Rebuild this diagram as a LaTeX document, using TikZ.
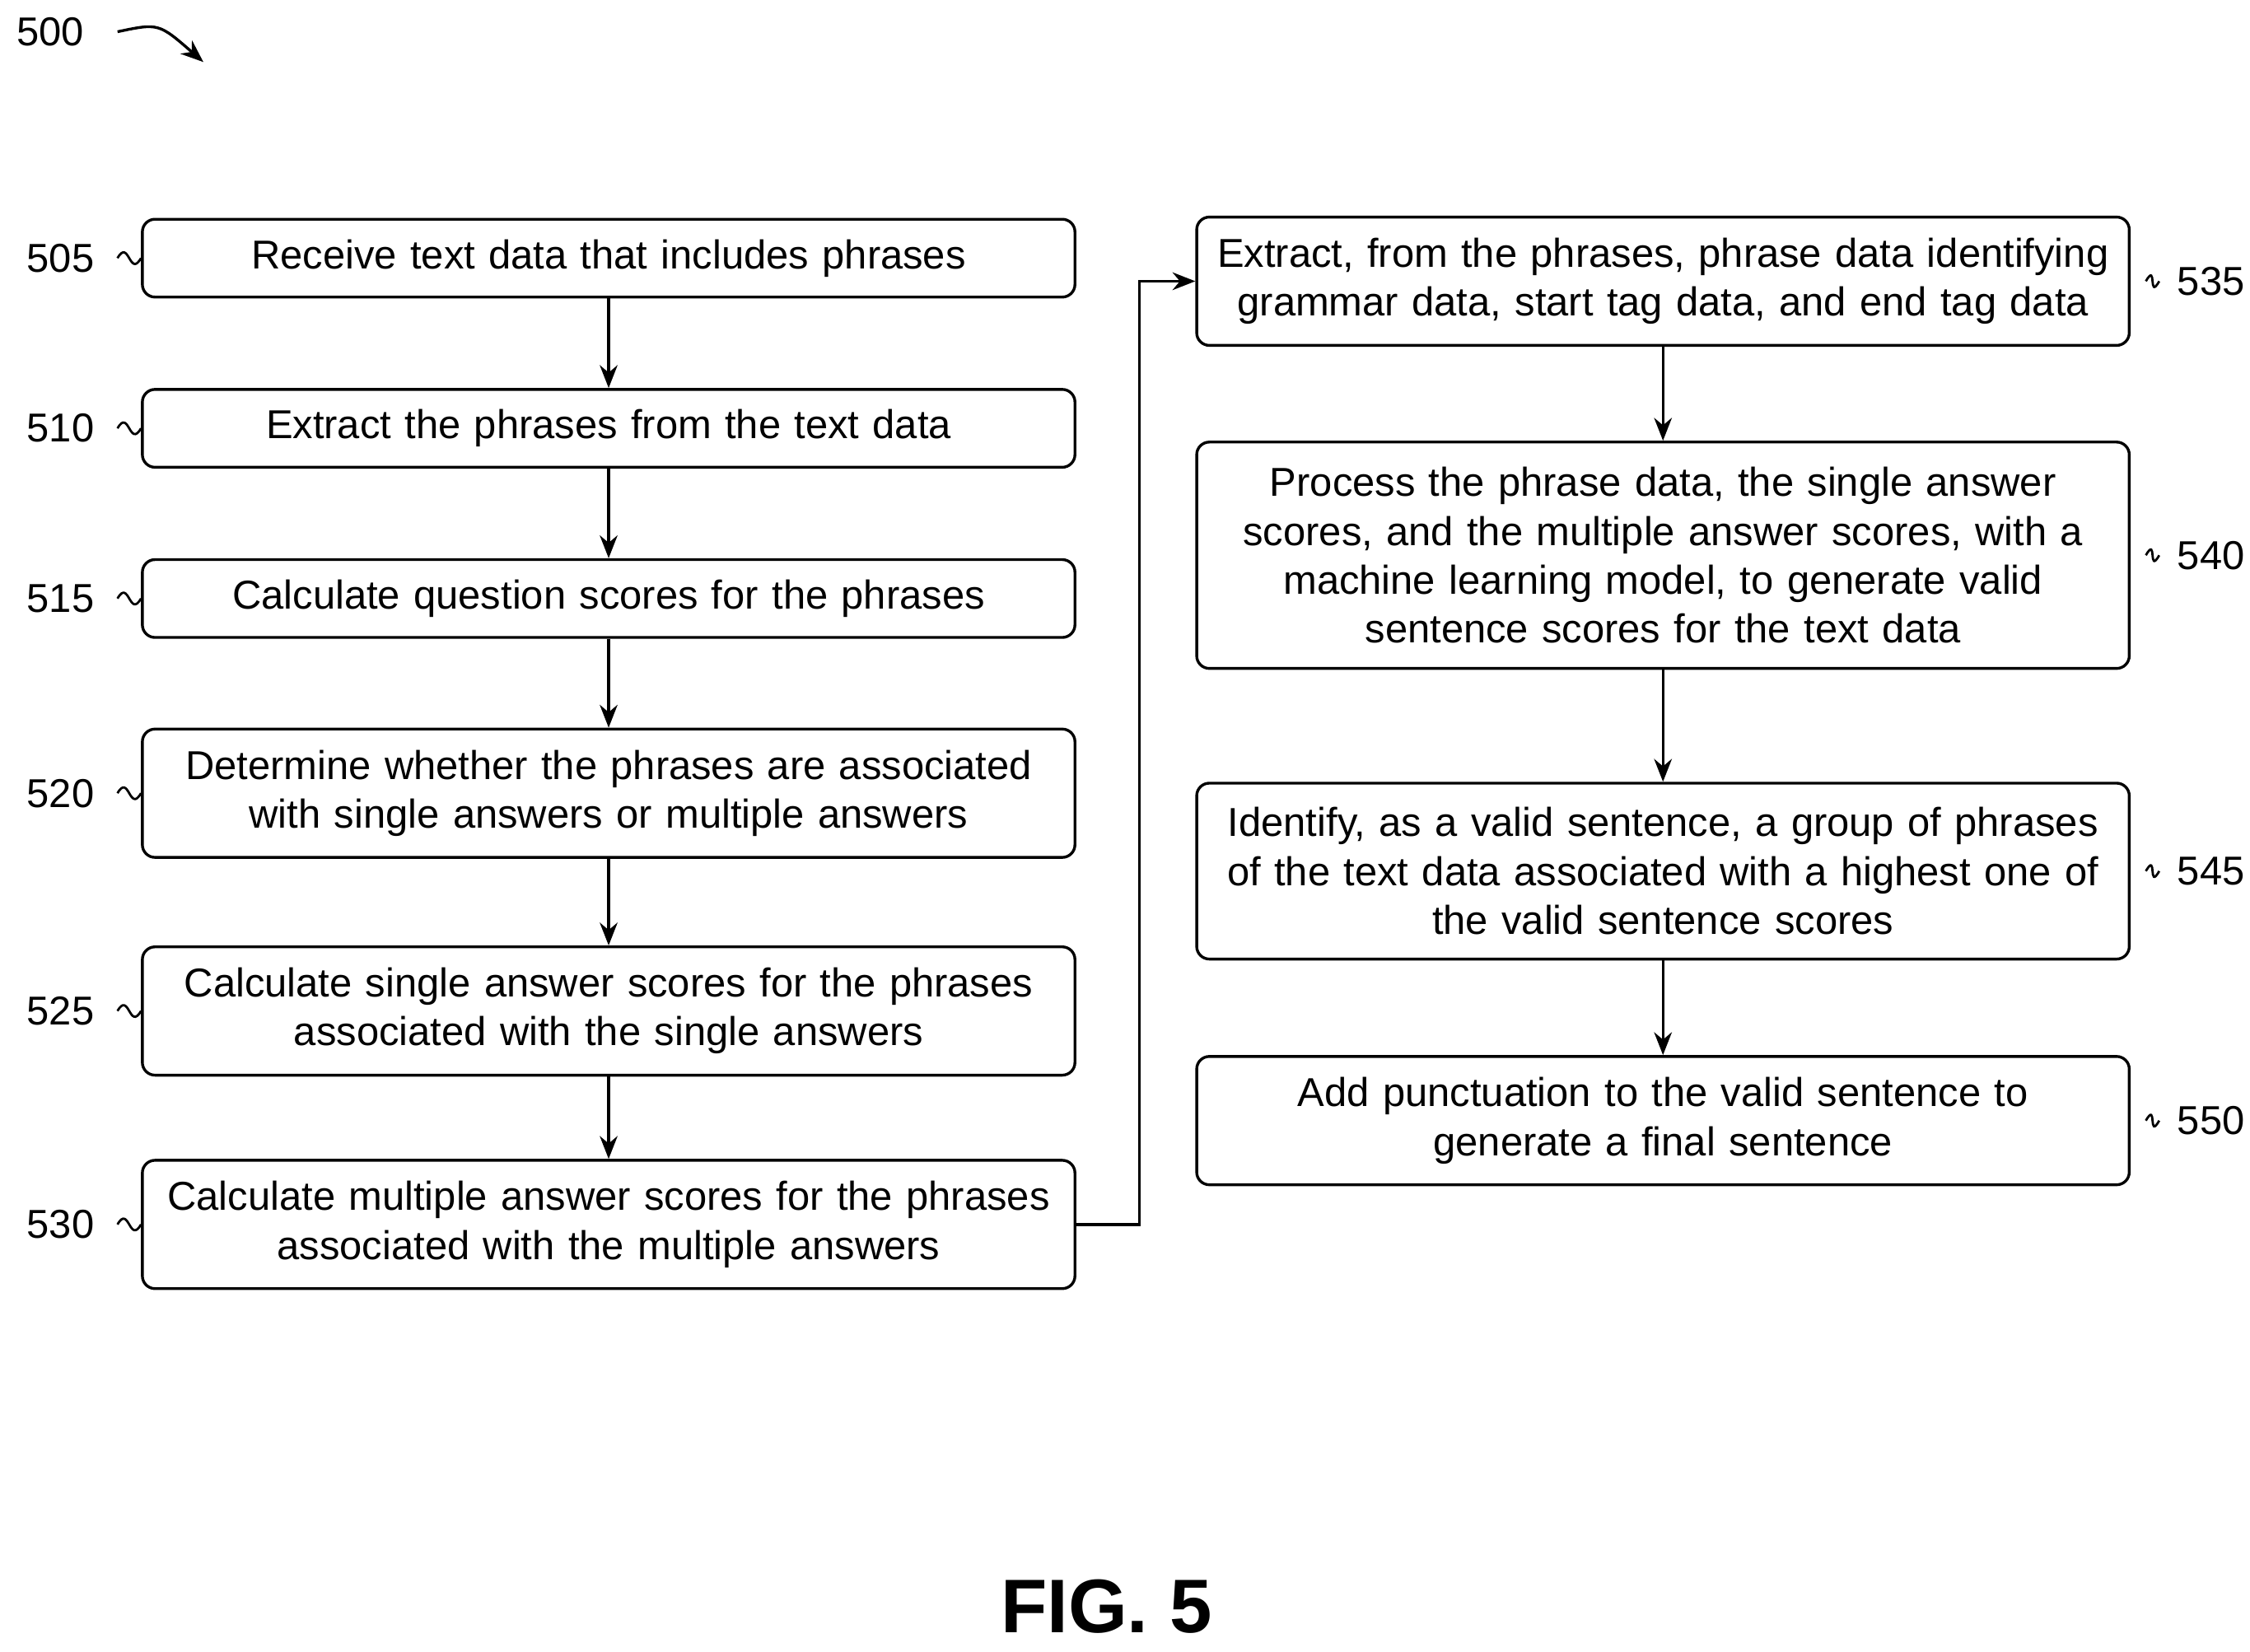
\documentclass[tikz,border=0pt]{standalone}
\usepackage{fontspec}
\setmainfont{Liberation Sans}
\usetikzlibrary{positioning}
\usetikzlibrary{arrows.meta}

\begin{document}
\begin{tikzpicture}[x=0.02cm, y=-0.02cm,
    box/.style={rectangle, draw=black, fill=white, line width=1.1pt, rounded corners=5pt, align=center, text width=12.7cm, minimum width=12.9cm, font=\fontsize{15.9}{19.3}\selectfont},
    num/.style={font=\fontsize{15.9}{18}\selectfont, inner sep=1pt},
    flow/.style={-{Stealth[length=9pt, width=7pt]}, line width=1.1pt},
    tilde/.style={line width=0.9pt}]

    \useasboundingbox (0,0) rectangle (1560,1145);

    % left column
    \node[box, minimum height=1.08cm] (s505) at (422,179) {Receive text data that includes phrases};
    \node[box, minimum height=1.08cm] (s510) at (422,297) {Extract the phrases from the text data};
    \node[box, minimum height=1.08cm] (s515) at (422,415) {Calculate question scores for the phrases};
    \node[box, minimum height=1.78cm] (s520) at (422,550) {Determine whether the phrases are associated\\with single answers or multiple answers};
    \node[box, minimum height=1.78cm] (s525) at (422,701) {Calculate single answer scores for the phrases\\associated with the single answers};
    \node[box, minimum height=1.78cm] (s530) at (422,849) {Calculate multiple answer scores for the phrases\\associated with the multiple answers};

    % right column
    \node[box, minimum height=1.78cm] (s535) at (1153,195) {Extract, from the phrases, phrase data identifying\\grammar data, start tag data, and end tag data};
    \node[box, minimum height=3.14cm] (s540) at (1153,385) {Process the phrase data, the single answer\\scores, and the multiple answer scores, with a\\machine learning model, to generate valid\\sentence scores for the text data};
    \node[box, minimum height=2.44cm] (s545) at (1153,604) {Identify, as a valid sentence, a group of phrases\\of the text data associated with a highest one of\\the valid sentence scores};
    \node[box, minimum height=1.78cm] (s550) at (1153,777) {Add punctuation to the valid sentence to\\generate a final sentence};

    % reference numerals
    \foreach \n/\y in {505/179, 510/297, 515/415, 520/550, 525/701, 530/849} {
        \node[num] (l\n) at (42,\y) {\n};
        \draw[tilde] ([xshift=8]l\n.east) .. controls +(8,-14) and +(-8,14) .. (s\n.west);
    }
    \foreach \n/\y in {535/195, 540/385, 545/604, 550/777} {
        \node[num] (l\n) at (1533,\y) {\n};
        \draw[tilde] ([xshift=6]s\n.east) .. controls +(8,-14) and +(-8,14) .. ([xshift=-6]l\n.west);
    }

    \draw[flow] (s505) -- (s510);
    \draw[flow] (s510) -- (s515);
    \draw[flow] (s515) -- (s520);
    \draw[flow] (s520) -- (s525);
    \draw[flow] (s525) -- (s530);
    \draw[flow] (s530.east) -- (790,849) |- (s535.west);
    \draw[flow] (s535) -- (s540);
    \draw[flow] (s540) -- (s545);
    \draw[flow] (s545) -- (s550);

    % figure number
    \node[num] (l500) at (35,22) {500};
    \coordinate (p500) at (141,43);
    \draw[flow] ([xshift=12]l500.east) .. controls (110,16) .. (p500);

    \node[font=\bfseries\fontsize{30}{34}\selectfont] (fig) at (767,1114) {FIG. 5};
\end{tikzpicture}
\end{document}
